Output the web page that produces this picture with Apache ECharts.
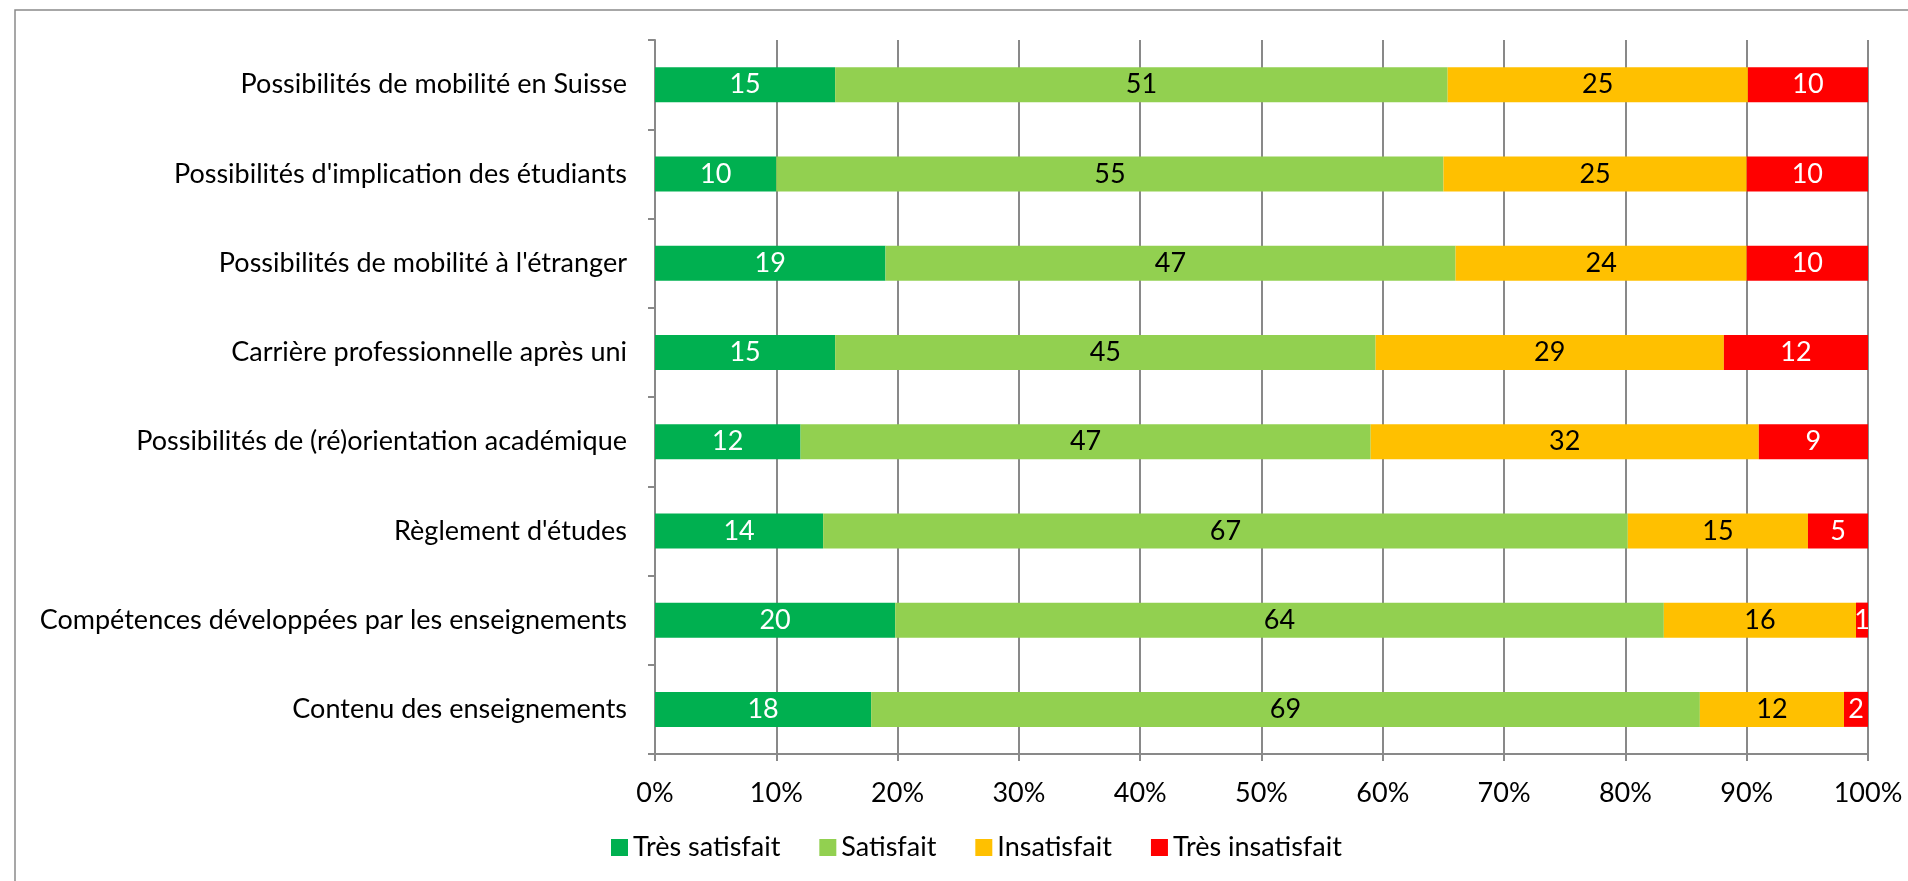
<!DOCTYPE html>
<html>
<head>
<meta charset="utf-8">
<script src="https://cdn.jsdelivr.net/npm/echarts@6/dist/echarts.min.js"></script>
<style>
  html, body { margin: 0; padding: 0; background: #fff; }
  #chart { width: 1908px; height: 881px; }
</style>
</head>
<body>
<div id="chart"></div>
<script>
// categories, top to bottom
const categories = [
  'Possibilités de mobilité en Suisse',
  "Possibilités d'implication des étudiants",
  "Possibilités de mobilité à l'étranger",
  'Carrière professionnelle après uni',
  'Possibilités de (ré)orientation académique',
  "Règlement d'études",
  'Compétences développées par les enseignements',
  'Contenu des enseignements'
]
const tresSatisfait = [15, 10, 19, 15, 12, 14, 20, 18]
const satisfait = [51, 55, 47, 45, 47, 67, 64, 69]
const insatisfait = [25, 25, 24, 29, 32, 15, 16, 12]
const tresInsatisfait = [10, 10, 10, 12, 9, 5, 1, 2]
const xTicks = [0, 10, 20, 30, 40, 50, 60, 70, 80, 90, 100]

const seriesDefs = [
  { name: 'Très satisfait', data: tresSatisfait, color: '#00B050', text: '#fff' },
  { name: 'Satisfait', data: satisfait, color: '#92D050', text: '#000' },
  { name: 'Insatisfait', data: insatisfait, color: '#FFC000', text: '#000' },
  { name: 'Très insatisfait', data: tresInsatisfait, color: '#FF0000', text: '#fff' }
]

// 100% stacked: each row scaled to its total
const totals = categories.map((c, i) =>
  seriesDefs.reduce((s, d) => s + d.data[i], 0)
)

const FONT = 'Lato'
const FS = 27
const GRAY = '#898989'

const myEcharts = echarts.init(document.getElementById('chart'))
const option = {
  animation: false,
  textStyle: { fontFamily: FONT },
  graphic: [
    {
      type: 'rect',
      shape: { x: 15, y: 10, width: 1960, height: 920 },
      style: { fill: 'none', stroke: '#8a8a8a', lineWidth: 1.5 },
      silent: true
    }
  ],
  grid: {
    left: 655,
    right: 40,
    top: 40,
    bottom: 127
  },
  legend: {
    left: 606,
    top: 829,
    icon: 'rect',
    itemWidth: 17,
    itemHeight: 17,
    itemGap: 39,
    textStyle: { fontFamily: FONT, fontSize: FS, color: '#000' },
    data: seriesDefs.map((d) => d.name)
  },
  xAxis: {
    type: 'value',
    min: xTicks[0],
    max: xTicks[xTicks.length - 1],
    interval: 10,
    axisLine: { show: true, lineStyle: { color: GRAY, width: 2 } },
    axisTick: { show: true, length: 7, lineStyle: { color: GRAY, width: 2 } },
    axisLabel: {
      margin: 26,
      fontFamily: FONT,
      fontSize: FS,
      color: '#000',
      formatter: '{value}%'
    },
    splitLine: { show: true, lineStyle: { color: GRAY, width: 2 } }
  },
  yAxis: {
    type: 'category',
    inverse: true,
    data: categories,
    axisLine: { show: true, lineStyle: { color: GRAY, width: 2 } },
    axisTick: { show: true, length: 7, lineStyle: { color: GRAY, width: 2 } },
    axisLabel: {
      margin: 28,
      fontFamily: FONT,
      fontSize: FS,
      color: '#000'
    }
  },
  series: seriesDefs.map((d) => ({
    name: d.name,
    type: 'bar',
    stack: 'total',
    barWidth: 35,
    itemStyle: { color: d.color },
    label: {
      show: true,
      position: 'inside',
      fontFamily: FONT,
      fontSize: FS,
      color: d.text,
      formatter: (p) => String(d.data[p.dataIndex])
    },
    data: d.data.map((v, i) => (v / totals[i]) * 100)
  }))
}
myEcharts.setOption(option)
</script>
</body>
</html>
